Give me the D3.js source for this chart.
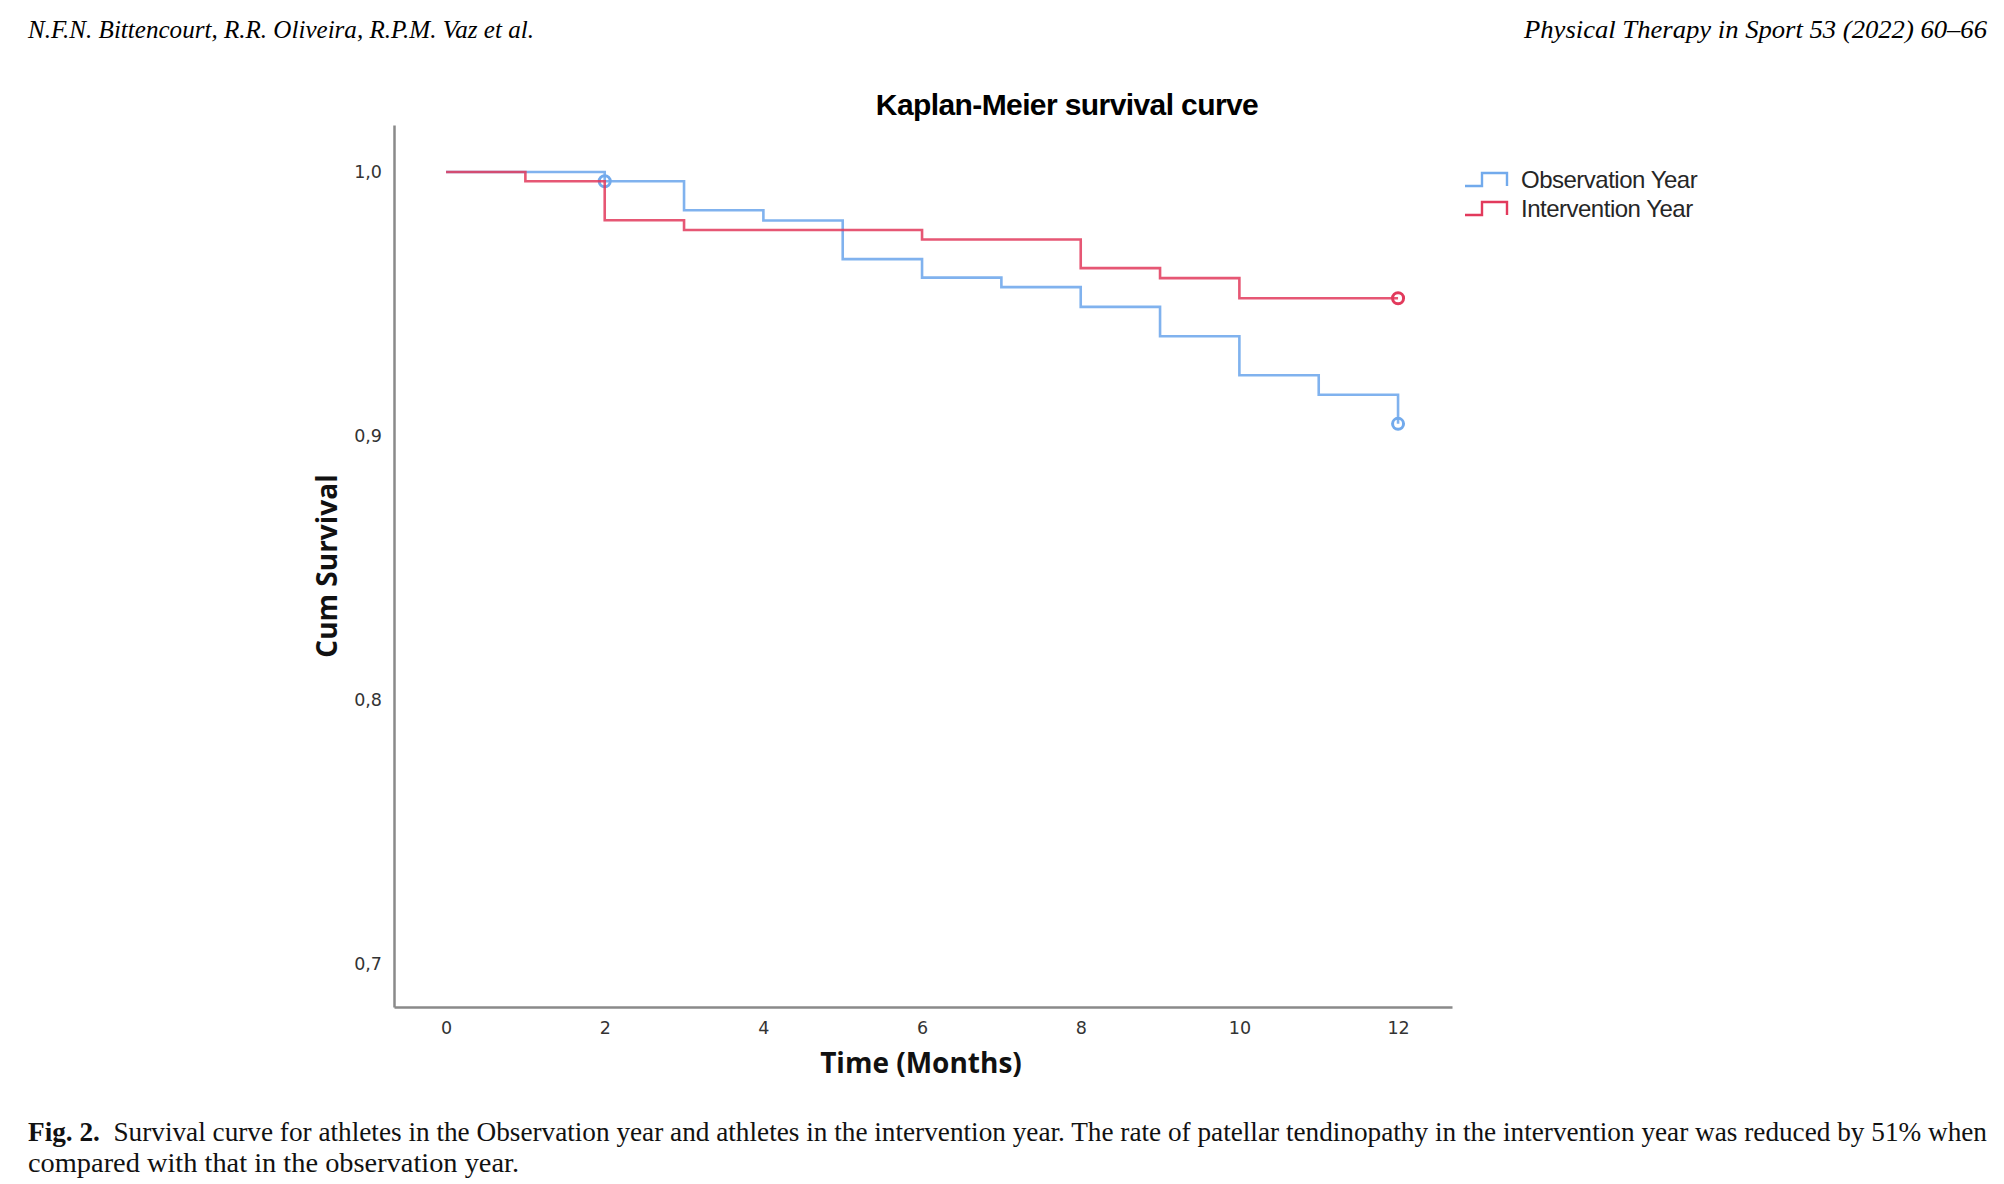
<!DOCTYPE html>
<html>
<head>
<meta charset="utf-8">
<script src="https://cdn.jsdelivr.net/npm/d3@7"></script>
<style>
  body { margin: 0; background: #fff; }
  svg { display: block; }
</style>
</head>
<body>
<div id="chart"></div>
<script>
// Kaplan-Meier step data
const obsTimes = [0, 2, 3, 4, 5, 6, 7, 8, 9, 10, 11, 12];
const obsSurv = [1.0, 0.9965, 0.9855, 0.9816, 0.967, 0.960, 0.9564, 0.9489, 0.9378, 0.923, 0.9156, 0.9046];
const intTimes = [0, 1, 2, 3, 6, 8, 9, 10];
const intSurv = [1.0, 0.9965, 0.9817, 0.978, 0.9744, 0.9636, 0.9598, 0.9522];
const obsCensored = [2, 12];
const intCensored = [12];
const xTicks = [0, 2, 4, 6, 8, 10, 12];
const yTicks = [0.7, 0.8, 0.9, 1.0];
const seriesNames = ['Observation Year', 'Intervention Year'];
const endTime = 12;

const width = 2004;
const height = 1184;

const svg = d3.select('#chart')
    .append('svg')
    .attr('width', width)
    .attr('height', height);

const x = d3.scaleLinear().domain([-0.656, 12.68]).range([394, 1452]);
const y = d3.scaleLinear().domain([0.6837, 1.0178]).range([1007, 125]);

const blue = '#72aaec';
const red = '#e23a5c';

// page header
svg.append('text')
    .attr('x', 28).attr('y', 38)
    .attr('textLength', 506).attr('lengthAdjust', 'spacingAndGlyphs')
    .style('font', 'italic 25px "Liberation Serif"')
    .text('N.F.N. Bittencourt, R.R. Oliveira, R.P.M. Vaz et al.');
svg.append('text')
    .attr('x', 1524).attr('y', 38)
    .attr('textLength', 463).attr('lengthAdjust', 'spacingAndGlyphs')
    .style('font', 'italic 25px "Liberation Serif"')
    .text('Physical Therapy in Sport 53 (2022) 60\u201366');

// chart title
svg.append('text')
    .attr('x', 1067).attr('y', 115)
    .attr('text-anchor', 'middle')
    .style('font', 'bold 30px "Liberation Sans"')
    .style('letter-spacing', '-0.6px')
    .text('Kaplan-Meier survival curve');

// axes
const yAxis = svg.append('g')
    .attr('transform', `translate(${x.range()[0]},0)`)
    .call(d3.axisLeft(y).tickValues(yTicks).tickSize(0).tickPadding(12)
        .tickFormat(d => d3.format('.1f')(d).replace('.', ',')));
yAxis.select('.domain').attr('stroke', '#8a8a8a').attr('stroke-width', 2.5);
yAxis.selectAll('text').style('font', '17.5px "DejaVu Sans"').attr('fill', '#333');

const xAxis = svg.append('g')
    .attr('transform', `translate(0,${y.range()[0]})`)
    .call(d3.axisBottom(x).tickValues(xTicks).tickSize(0).tickPadding(15));
xAxis.select('.domain').attr('stroke', '#8a8a8a').attr('stroke-width', 2.5);
xAxis.selectAll('text').style('font', '17.5px "DejaVu Sans"').attr('fill', '#333');

// axis titles
svg.append('text')
    .attr('transform', 'translate(337,566) rotate(-90)')
    .attr('text-anchor', 'middle')
    .style('font', 'bold 28px "Open Sans"')
    .attr('fill', '#111')
    .text('Cum Survival');
svg.append('text')
    .attr('x', 921).attr('y', 1073)
    .attr('text-anchor', 'middle')
    .style('font', 'bold 28px "Open Sans"')
    .attr('fill', '#111')
    .text('Time (Months)');

// survival steps
const line = d3.line()
    .x(d => x(d[0]))
    .y(d => y(d[1]))
    .curve(d3.curveStepAfter);

function stepPoints(times, surv) {
    const pts = times.map((t, i) => [t, surv[i]]);
    pts.push([endTime, surv[surv.length - 1]]);
    return pts;
}

function survAt(times, surv, t) {
    let v = surv[0];
    times.forEach((tt, i) => { if (tt <= t) v = surv[i]; });
    return v;
}

const series = [
    { name: seriesNames[0], times: obsTimes, surv: obsSurv, cens: obsCensored, color: blue, op: 0.9 },
    { name: seriesNames[1], times: intTimes, surv: intSurv, cens: intCensored, color: red, op: 0.85 },
];

series.forEach(s => {
    svg.append('path')
        .datum(stepPoints(s.times, s.surv))
        .attr('d', line)
        .attr('fill', 'none')
        .attr('stroke', s.color)
        .attr('stroke-width', 2.6)
        .attr('stroke-opacity', s.op);
    svg.selectAll(null)
        .data(s.cens)
        .enter()
        .append('circle')
        .attr('cx', d => x(d))
        .attr('cy', d => y(survAt(s.times, s.surv, d)))
        .attr('r', 5.5)
        .attr('fill', 'none')
        .attr('stroke', s.color)
        .attr('stroke-width', 3);
});

// legend
const legend = svg.append('g').attr('transform', 'translate(1465,180)');
series.forEach((s, i) => {
    const g = legend.append('g').attr('transform', `translate(0,${i * 29})`);
    g.append('path')
        .attr('d', 'M0,6 H17 V-7 H42 V6')
        .attr('fill', 'none')
        .attr('stroke', s.color)
        .attr('stroke-width', 2.4);
    g.append('text')
        .attr('x', 56).attr('y', 8)
        .style('font', '24px "Liberation Sans"')
        .style('letter-spacing', '-0.5px')
        .attr('fill', '#262626')
        .text(s.name);
});

// caption
const cap = svg.append('text')
    .attr('x', 28).attr('y', 1141)
    .attr('textLength', 1959).attr('lengthAdjust', 'spacingAndGlyphs')
    .style('font', '27px "Liberation Serif"')
    .attr('fill', '#111');
cap.append('tspan').style('font-weight', 'bold').text('Fig. 2.');
cap.append('tspan').text('\u00a0 Survival curve for athletes in the Observation year and athletes in the intervention year. The rate of patellar tendinopathy in the intervention year was reduced by 51% when');
svg.append('text')
    .attr('x', 28).attr('y', 1172)
    .attr('textLength', 491).attr('lengthAdjust', 'spacingAndGlyphs')
    .style('font', '27px "Liberation Serif"')
    .attr('fill', '#111')
    .text('compared with that in the observation year.');
</script>
</body>
</html>
